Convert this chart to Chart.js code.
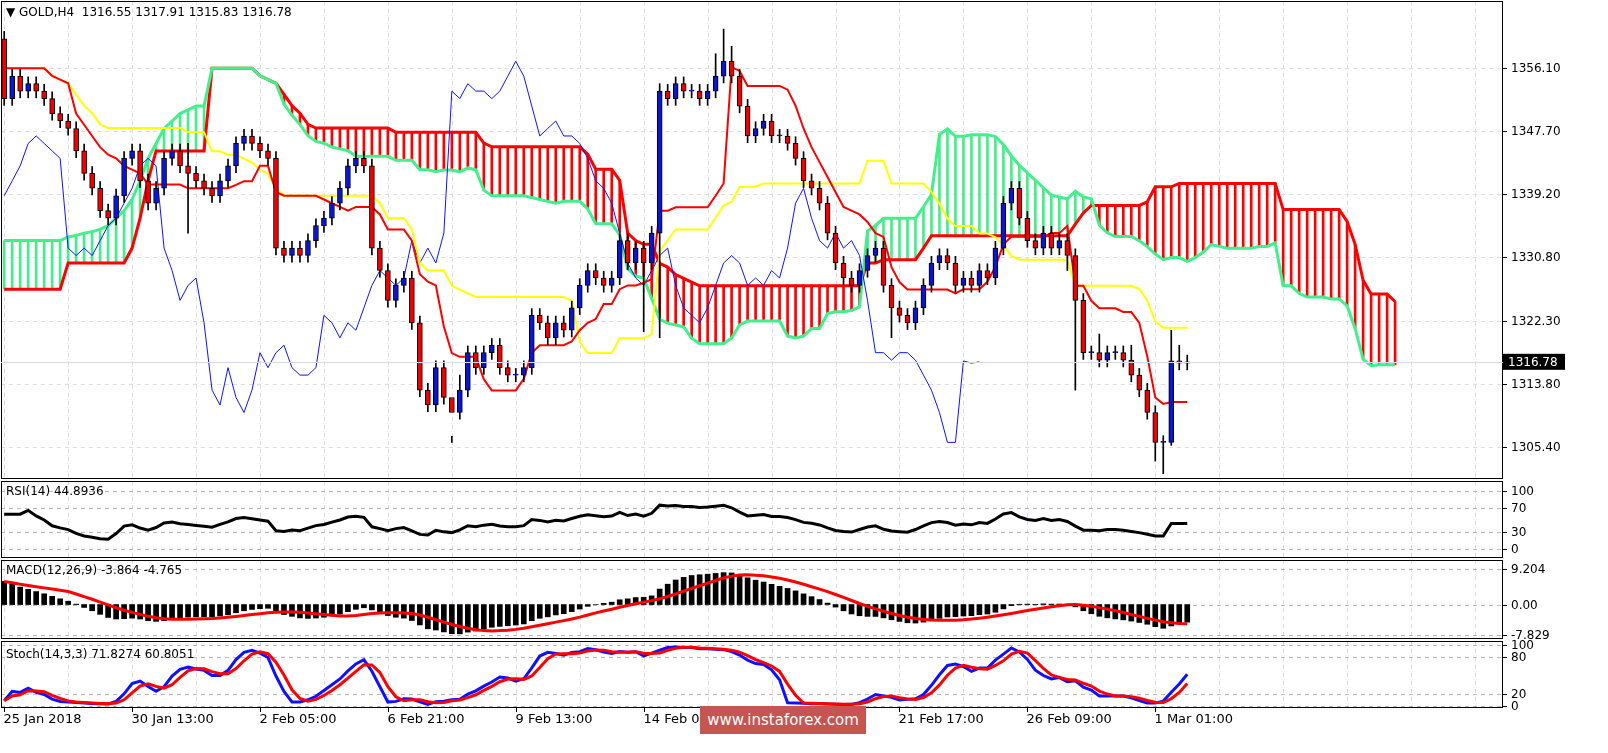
<!DOCTYPE html>
<html><head><meta charset="utf-8">
<script src="https://cdn.jsdelivr.net/npm/chart.js@4.4.0/dist/chart.umd.min.js"></script>
<style>
body{margin:0;background:#fff;width:1608px;height:753px;overflow:hidden;position:relative;font-family:"DejaVu Sans",sans-serif}
.w{position:absolute;left:0;width:1608px}
.t{position:absolute;font-size:12px;color:#000;left:6px;white-space:pre}
#wm{position:absolute;left:700px;top:706px;width:166px;height:28px;background:#c65450;color:#fff;font-size:15px;line-height:28px;text-align:center}
</style></head><body>
<div class="w" style="top:0;height:480px"><canvas id="c1"></canvas></div>
<div class="w" style="top:480px;height:79px"><canvas id="c2"></canvas></div>
<div class="w" style="top:559px;height:81px"><canvas id="c3"></canvas></div>
<div class="w" style="top:640px;height:113px"><canvas id="c4"></canvas></div>
<div class="t" style="top:5px">▼ GOLD,H4  1316.55 1317.91 1315.83 1316.78</div>
<div class="t" style="top:484px">RSI(14) 44.8936</div>
<div class="t" style="top:563px">MACD(12,26,9) -3.864 -4.765</div>
<div class="t" style="top:647px">Stoch(14,3,3) 71.8274 60.8051</div>
<div id="wm">www.instaforex.com</div>
<script>
// ---- data ----
const closes=[1352,1355,1353,1354,1353,1352,1350,1349,1348,1345,
1342,1340,1337,1336,1339,1344,1345,1341,1338,1340,
1344,1345,1343,1342,1341,1340,1339,1341,1343,1346,
1347,1346,1345,1344,1332,1331,1332,1331,1333,1335,
1336,1338,1340,1343,1344,1343,1332,1329,1325,1327,
1328,1322,1313,1311,1316,1312,1310,1313,1318,1316,
1318,1319,1316,1315,1315,1316,1323,1322,1320,1322,
1321,1324,1327,1329,1328,1327,1328,1333,1330,1332,
1330,1334,1353,1352,1354,1353,1353,1352,1353,1355,
1357,1355,1351,1347,1348,1349,1347,1347,1346,1344,
1341,1340,1338,1334,1330,1328,1327,1329,1331,1332,
1327,1324,1323,1322,1324,1327,1330,1331,1330,1327,
1328,1327,1329,1328,1332,1338,1340,1336,1333,1332,
1334,1332,1333,1331,1325,1318,1318,1317,1318,1318,
1317,1315,1313,1310,1306,1306,1316.9,1316.6,1316.78];
const firstOpen=1360;
const highOverride={0:1361,23:1346,56:1306.8,57:1315,82:1354,89:1358,90:1361.3,91:1359,137:1320.5,141:1319,146:1321,147:1319};
const lowOverride={23:1334,56:1306,80:1320.8,82:1320,111:1320,133:1329,134:1313,144:1303.5,145:1301.8,146:1305.6};
const earlySpanA=[1333,1333,1333,1333,1333,1333,1333,1333,1333.5,1333.7,1334,1334.2,1334.5,1335,1336,1337,1338.5,1341,1344,1346,1348,1349,1350,1350.5,1351,1351];
const earlySpanB=[1326.5,1326.5,1326.5,1326.5,1326.5,1326.5,1326.5,1326.5,1330,1330,1330,1330,1330,1330,1330,1330,1332,1336,1341,1345,1345,1345,1345,1345,1345,1345];
const xLabels=["25 Jan 2018","30 Jan 13:00","2 Feb 05:00","6 Feb 21:00","9 Feb 13:00","14 Feb 05:00","","21 Feb 17:00","26 Feb 09:00","1 Mar 01:00"];
const xLabelIdx=[0,16,32,48,64,80,96,112,128,144];
const priceTicks=[1356.10,1347.70,1339.20,1330.80,1322.30,1313.80,1305.40];
const rsiTicks=[100,70,30,0], macdTicks=[9.204,0,-7.829], stochTicks=[100,80,20,0];

// ---- build OHLC and indicators ----
const n=closes.length;
const O=closes.map((c,i)=>i?closes[i-1]:firstOpen);
const H=closes.map((c,i)=>highOverride[i]??Math.max(c,O[i])+0.9);
const L=closes.map((c,i)=>lowOverride[i]??Math.min(c,O[i])-0.9);
const mid=(i,p)=>{let a=-1e9,b=1e9;for(let k=Math.max(0,i-p+1);k<=i;k++){a=Math.max(a,H[k]);b=Math.min(b,L[k]);}return (a+b)/2;};
const tenkan=[],kijun=[],spanA=[],spanB=[];
for(let i=0;i<n;i++){tenkan.push(mid(i,9));kijun.push(mid(i,26));}
for(let j=0;j<n+26;j++){
  if(j<26){spanA.push(earlySpanA[j]);spanB.push(earlySpanB[j]);}
  else{const i=j-26;spanA.push((tenkan[i]+kijun[i])/2);spanB.push(mid(i,52));}
}
const rsi=[];let ag=0,al=0;
for(let i=0;i<n;i++){
  const d=i?closes[i]-closes[i-1]:0;const g=Math.max(d,0),l=Math.max(-d,0);
  const p=Math.min(i+1,14);ag=(ag*(p-1)+g)/p;al=(al*(p-1)+l)/p;
  rsi.push(al===0?60:100-100/(1+ag/al));
}
const ema=(p)=>{const k=2/(p+1);let e=0;return closes.map((c,i)=>i?(e=c*k+e*(1-k)):(e=c+8));};
const e12=ema(12),e26=ema(26);
const macd=e12.map((v,i)=>v-e26[i]+(i<20?6-i*0.3:0));
const sig=macd.map((v,i)=>{let s=0,c=0;for(let k=Math.max(0,i-8);k<=i;k++){s+=macd[k];c++;}return s/c;});
const num=[],den=[];
for(let i=0;i<n;i++){let hh=-1e9,ll=1e9;for(let k=Math.max(0,i-13);k<=i;k++){hh=Math.max(hh,H[k]);ll=Math.min(ll,L[k]);}num.push(closes[i]-ll);den.push(hh-ll);}
const stK=num.map((v,i)=>{let a=0,b=0;for(let k=Math.max(0,i-2);k<=i;k++){a+=num[k];b+=den[k];}return b?100*a/b:50;});
const stD=stK.map((v,i)=>{let s=0,c=0;for(let k=Math.max(0,i-2);k<=i;k++){s+=stK[k];c++;}return s/c;});

// ---- chart helpers ----
const XMIN=-0.4,XMAX=187.5;
const pts=(arr,off=0)=>arr.map((v,i)=>({x:i+off,y:v}));
const gridPlugin=(ticks,fmt,dashTicks)=>({id:'g',beforeDatasetsDraw(ch){
  const {ctx,chartArea:a,scales:{x,y}}=ch;ctx.save();ctx.strokeStyle='#dcdcf0';ctx.lineWidth=1;ctx.setLineDash([4,4]);
  for(let v=0;v<=XMAX;v+=8){const px=Math.round(x.getPixelForValue(v))+0.5;ctx.beginPath();ctx.moveTo(px,a.top);ctx.lineTo(px,a.bottom);ctx.stroke();}
  ctx.strokeStyle=dashTicks?'#bbb':'#dcdcf0';
  ticks.forEach(t=>{const py=Math.round(y.getPixelForValue(t))+0.5;ctx.beginPath();ctx.moveTo(a.left,py);ctx.lineTo(a.right,py);ctx.stroke();});
  ctx.restore();},
  afterDraw(ch){const {ctx,chartArea:a,scales:{y}}=ch;ctx.save();ctx.strokeStyle='#000';ctx.lineWidth=1;ctx.strokeRect(a.left+0.5,a.top+0.5,a.right-a.left-1,a.bottom-a.top-1);
    ctx.fillStyle='#000';ctx.font='12px DejaVu Sans';ctx.textBaseline='middle';
    ticks.forEach(t=>{const py=Math.round(y.getPixelForValue(t))+0.5;ctx.beginPath();ctx.moveTo(a.right,py);ctx.lineTo(a.right+4,py);ctx.stroke();ctx.fillText(fmt(t),a.right+8,py);});
    ctx.restore();}});
function mk(id,datasets,ymin,ymax,ticks,fmt,padB,extra,dash){
  return new Chart(document.getElementById(id),{data:{datasets},
    options:{responsive:true,maintainAspectRatio:false,animation:false,devicePixelRatio:1,
      layout:{padding:{top:1,bottom:padB,left:1,right:105}},
      plugins:{legend:{display:false},tooltip:{enabled:false}},
      scales:{x:{type:'linear',min:XMIN,max:XMAX,display:false,offset:false},
        y:{display:false,min:ymin,max:ymax}}},
    plugins:[gridPlugin(ticks,fmt,dash)].concat(extra||[])});
}
const barDs=(data,color,th,order,border)=>({type:'bar',data,backgroundColor:color,borderColor:border||color,borderWidth:border?1:0,borderSkipped:false,barThickness:th,grouped:false,order});
const lineDs=(data,color,w,order)=>({type:'line',data,borderColor:color,borderWidth:w,pointRadius:0,order,tension:0});

const hatch=spanA.map((a,j)=>({x:j,y:[a,spanB[j]]}));
const hatchCol=spanA.map((a,j)=>a>=spanB[j]?'#40f08a':'#ff0000');
const wick=closes.map((c,i)=>({x:i,y:[L[i],H[i]]}));
const body=closes.map((c,i)=>({x:i,y:[O[i],c+(Math.abs(c-O[i])<0.15?0.15:0)]}));
const bodyCol=closes.map((c,i)=>c>=O[i]?'#0a14d8':'#f00000');
const chikou=closes.slice(26).map((c,k)=>({x:k,y:c}));
const lastPrice=closes[n-1];
const priceBox={id:'pb',afterDraw(ch){const {ctx,chartArea:a,scales:{y}}=ch;const py=y.getPixelForValue(lastPrice);
  ctx.save();ctx.strokeStyle='#d8d8ee';ctx.beginPath();ctx.moveTo(a.left,Math.round(py)+0.5);ctx.lineTo(a.right,Math.round(py)+0.5);ctx.stroke();
  ctx.fillStyle='#000';ctx.fillRect(a.right,py-8,62,16);ctx.fillStyle='#fff';ctx.font='12px DejaVu Sans';ctx.textBaseline='middle';ctx.fillText(lastPrice.toFixed(2),a.right+5,py+1);ctx.restore();}};
mk('c1',[
  barDs(hatch,hatchCol,2,20),
  lineDs(pts(spanA),'#40f08a',3,15),lineDs(pts(spanB),'#ff0000',3,15),
  lineDs(chikou,'#0a14ff',1,12),
  lineDs(pts(kijun),'#ffff00',2,11),lineDs(pts(tenkan),'#ff0000',2,10),
  barDs(wick,'#000',1,5),barDs(body,bodyCol,5,4,'#000')
],1301.1,1365.06,priceTicks,v=>v.toFixed(2),1,[priceBox]);
mk('c2',[lineDs(pts(rsi),'#000',3,1)],-15.8,117.5,rsiTicks,v=>String(v),1,[],true);
mk('c3',[barDs(pts(macd),'#000',5,2),lineDs(pts(sig),'#ff0000',3,1)],-8.95,11.57,macdTicks,v=>v===0?'0.00':v.toFixed(3),1,[],true);
const xAxisLabels={id:'xl',afterDraw(ch){const {ctx,chartArea:a,scales:{x}}=ch;ctx.save();ctx.fillStyle='#000';ctx.strokeStyle='#000';ctx.font='13px DejaVu Sans';ctx.textBaseline='middle';
  xLabelIdx.forEach((v,k)=>{const px=Math.round(x.getPixelForValue(v))+0.5;ctx.beginPath();ctx.moveTo(px,a.bottom);ctx.lineTo(px,a.bottom+4);ctx.stroke();if(xLabels[k])ctx.fillText(xLabels[k],px-1,a.bottom+12);});ctx.restore();}};
mk('c4',[lineDs(pts(stK),'#1010ff',3,2),lineDs(pts(stD),'#ff0000',3,1)],-2.7,106,stochTicks,v=>String(v),45,[xAxisLabels],true);
</script></body></html>
